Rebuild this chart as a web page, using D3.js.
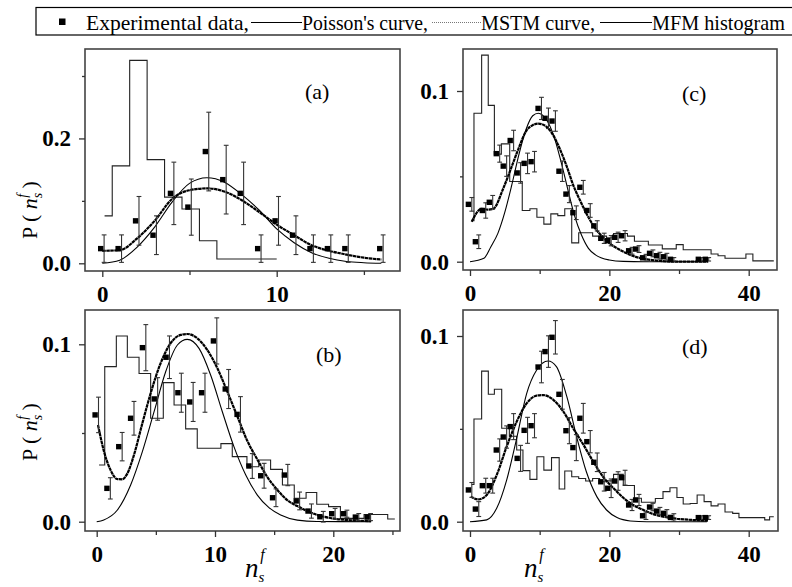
<!DOCTYPE html>
<html>
<head>
<meta charset="utf-8">
<script src="https://cdn.jsdelivr.net/npm/d3@7"></script>
<style>
  body { margin: 0; background: #fff; }
  svg { display: block; }
  .tick text { font-family: 'Liberation Serif', 'Times New Roman', serif; font-weight: bold; font-size: 23px; fill: #000; }
  .tick line { stroke: #333; stroke-width: 1.3; }
</style>
</head>
<body>
<svg id="canvas" width="792" height="587"></svg>
<script>
// ---- panel (a)
const aExpN = [0, 1, 2, 3, 4, 5, 6, 7, 8, 9, 10, 11, 12, 13, 14, 16];
const aExpP = [0.0235, 0.0235, 0.068, 0.045, 0.112, 0.09, 0.179, 0.134, 0.112, 0.0235, 0.068, 0.045, 0.0235, 0.0235, 0.0235, 0.0235];
const aExpErr = [0.022, 0.022, 0.039, 0.031, 0.05, 0.045, 0.063, 0.055, 0.05, 0.022, 0.039, 0.031, 0.022, 0.022, 0.022, 0.022];
const aPoisN = [0, 1, 2, 3, 4, 5, 6, 7, 8, 9, 10, 11, 12, 13, 14, 15, 16];
const aPoisP = [0.0, 0.005, 0.026, 0.058, 0.098, 0.128, 0.137, 0.13, 0.11, 0.085, 0.055, 0.033, 0.017, 0.008, 0.003, 0.001, 0.0];
const aMstmN = [0, 1, 2, 3, 4, 5, 6, 7, 8, 9, 10, 11, 12, 13, 14, 15, 16];
const aMstmP = [0.02, 0.021, 0.04, 0.068, 0.103, 0.117, 0.12, 0.115, 0.101, 0.082, 0.062, 0.045, 0.029, 0.02, 0.014, 0.009, 0.006];
const aHistX = [0.13, 0.57, 1.57, 2.57, 3.57, 4.57, 5.57, 6.57, 10.0];
const aHistP = [0.076, 0.156, 0.325, 0.166, 0.106, 0.087, 0.036, 0.007];

// ---- panel (b)
const bExpN = [0, 1, 2, 3, 4, 5, 6, 7, 8, 9, 10, 11, 12, 13, 14, 15, 16, 17, 18, 19, 20, 21, 22, 23];
const bExpP = [0.0602, 0.0188, 0.0423, 0.0583, 0.0981, 0.0692, 0.0927, 0.0727, 0.0675, 0.0727, 0.1019, 0.0748, 0.0605, 0.0314, 0.0259, 0.0135, 0.0263, 0.0117, 0.006, 0.0028, 0.0045, 0.0045, 0.0026, 0.0026];
const bExpErr = [0.01, 0.006, 0.008, 0.0095, 0.013, 0.012, 0.012, 0.011, 0.011, 0.011, 0.013, 0.011, 0.01, 0.007, 0.007, 0.005, 0.006, 0.005, 0.004, 0.003, 0.003, 0.002, 0.002, 0.002];
const bPoisN = [0, 0.6, 1.75, 2.87, 3.86, 4.85, 5.83, 6.82, 7.66, 8.65, 9.63, 10.62, 11.6, 12.6, 13.58, 14.56, 15.55, 16.96, 18.6, 23.2];
const bPoisP = [0, 0.001, 0.0066, 0.0207, 0.0395, 0.062, 0.0845, 0.0996, 0.1028, 0.0977, 0.0827, 0.062, 0.0423, 0.0263, 0.015, 0.0079, 0.0038, 0.0009, 0.0001, 0];
const bMstmN = [0.11, 0.62, 1.18, 1.75, 2.17, 2.6, 3.15, 3.86, 4.56, 5.4, 6.25, 7.1, 7.66, 8.5, 9.35, 10.2, 11.04, 11.9, 12.7, 13.6, 14.4, 15.27, 16.1, 16.96, 18.1, 19.2, 20.3, 21.5, 23.2];
const bMstmP = [0.0545, 0.0395, 0.029, 0.024, 0.0239, 0.0273, 0.0376, 0.0555, 0.0724, 0.0893, 0.1006, 0.1053, 0.1058, 0.1034, 0.0968, 0.0865, 0.0733, 0.0592, 0.046, 0.0348, 0.0254, 0.0179, 0.0122, 0.0088, 0.0051, 0.0028, 0.0015, 0.0008, 0.0003];
const bHistX = [0.2, 0.68, 1.66, 2.59, 3.58, 4.56, 5.63, 6.54, 7.52, 8.5, 10.5, 11.46, 12.7, 13.7, 14.7, 15.7, 16.7, 17.7, 18.6, 19.6, 20.6, 22.6, 24.6, 25.2];
const bHistP = [0.032, 0.0874, 0.1047, 0.0927, 0.0835, 0.0583, 0.0784, 0.0658, 0.0523, 0.0414, 0.044, 0.0367, 0.031, 0.0348, 0.0295, 0.0207, 0.0132, 0.0165, 0.0098, 0.0085, 0.0019, 0.0041, 0.0015];

// ---- panel (c)
const cExpN = [0, 1, 2, 3, 4, 5, 6, 7, 8, 9, 10, 11, 12, 13, 14, 15, 16, 17, 18, 19, 20, 21, 22, 23, 24, 25, 26, 27, 28, 29, 33, 34];
const cExpP = [0.0336, 0.0117, 0.03, 0.0348, 0.0633, 0.056, 0.071, 0.052, 0.0576, 0.0586, 0.0898, 0.084, 0.0824, 0.053, 0.0396, 0.0287, 0.0436, 0.03, 0.021, 0.0137, 0.0123, 0.0143, 0.0152, 0.0064, 0.0074, 0.0023, 0.0049, 0.0035, 0.0029, 0.0014, 0.0014, 0.0014];
const cExpErr = [0.004, 0.004, 0.0045, 0.004, 0.005, 0.006, 0.006, 0.006, 0.006, 0.006, 0.0065, 0.006, 0.006, 0.006, 0.005, 0.004, 0.004, 0.004, 0.003, 0.003, 0.003, 0.003, 0.003, 0.002, 0.002, 0.002, 0.002, 0.002, 0.002, 0.001, 0.001, 0.001];
const cPoisN = [0, 2, 3, 4, 5, 6, 7, 8, 9, 9.8, 11, 12, 13, 14, 15, 16, 17, 18, 20, 22, 25, 34];
const cPoisP = [0, 0.002, 0.0088, 0.0166, 0.029, 0.045, 0.0625, 0.077, 0.0855, 0.087, 0.083, 0.074, 0.0596, 0.043, 0.027, 0.0156, 0.0078, 0.004, 0.001, 0.0002, 0, 0];
const cMstmN = [0.24, 1.67, 2.5, 3.35, 4.78, 5.74, 6.94, 8.13, 9.0, 9.8, 11.0, 11.96, 12.9, 13.9, 14.8, 15.9, 17.0, 17.9, 19.0, 20.1, 21.3, 22.5, 23.9, 25.4, 27.3, 29.7, 34.2];
const cMstmP = [0.0234, 0.031, 0.0305, 0.031, 0.043, 0.053, 0.066, 0.077, 0.08, 0.0809, 0.079, 0.074, 0.066, 0.0557, 0.045, 0.035, 0.026, 0.02, 0.0146, 0.0105, 0.0074, 0.0049, 0.0027, 0.0014, 0.0004, 0.0, 0.0];
const cHistX = [0.24, 0.57, 1.67, 2.62, 3.5, 4.5, 5.7, 7.5, 8.6, 9.6, 10.6, 11.6, 12.6, 13.6, 14.6, 15.6, 17.6, 19.6, 20.6, 22.6, 23.6, 25.6, 27.6, 29.6, 30.6, 34.6, 35.6, 36.6, 39.6, 40.6, 43.6];
const cHistP = [0.024, 0.087, 0.121, 0.0916, 0.063, 0.069, 0.047, 0.03, 0.031, 0.026, 0.022, 0.028, 0.027, 0.031, 0.011, 0.017, 0.015, 0.014, 0.0165, 0.015, 0.012, 0.0098, 0.0075, 0.01, 0.007, 0.0045, 0.0035, 0.002, 0.0045, 0.0005];

// ---- panel (d)
const dExpN = [0, 1, 2, 3, 4, 5, 6, 7, 8, 9, 10, 11, 12, 13, 14, 15, 16, 17, 18, 19, 20, 21, 22, 23, 24, 25, 26, 27, 28, 29, 33, 34];
const dExpP = [0.0171, 0.0068, 0.0194, 0.0194, 0.0386, 0.0456, 0.0512, 0.0341, 0.0492, 0.0517, 0.0833, 0.0916, 0.0993, 0.0686, 0.049, 0.0399, 0.0557, 0.0431, 0.032, 0.0215, 0.018, 0.0219, 0.0237, 0.009, 0.0117, 0.0032, 0.0079, 0.0057, 0.0045, 0.0023, 0.0022, 0.0022];
const dExpErr = [0.004, 0.004, 0.004, 0.004, 0.006, 0.006, 0.007, 0.007, 0.007, 0.0065, 0.0085, 0.0085, 0.009, 0.008, 0.007, 0.007, 0.008, 0.006, 0.005, 0.005, 0.005, 0.005, 0.004, 0.003, 0.003, 0.002, 0.002, 0.002, 0.002, 0.002, 0.001, 0.001];
const dPoisN = [0, 2.4, 3.83, 5.26, 6.7, 8.13, 9.57, 11.2, 12.4, 13.9, 15.3, 16.7, 18.2, 19.6, 21.1, 23, 25.4, 34];
const dPoisP = [0, 0.001, 0.0072, 0.0224, 0.0449, 0.069, 0.0817, 0.0865, 0.0835, 0.0673, 0.0458, 0.0269, 0.0135, 0.0063, 0.0022, 0.0004, 0, 0];
const dMstmN = [0.1, 1.2, 2.4, 3.83, 5.26, 6.7, 8.13, 9.57, 10.5, 12, 13.4, 14.8, 16.3, 17.7, 19.1, 20.6, 22, 23.4, 24.9, 26.3, 27.75, 29.7, 32, 34.2];
const dMstmP = [0.0135, 0.012, 0.0144, 0.0251, 0.0404, 0.0539, 0.0637, 0.0679, 0.0682, 0.0655, 0.0593, 0.0503, 0.0413, 0.0323, 0.0242, 0.018, 0.0129, 0.009, 0.0063, 0.0041, 0.0027, 0.0016, 0.0009, 0.0005];
const dHistX = [0.24, 0.57, 1.67, 2.63, 3.5, 4.55, 5.65, 6.7, 7.6, 8.6, 9.6, 10.6, 11.7, 12.8, 13.6, 14.6, 15.6, 16.6, 17.6, 18.6, 19.6, 20.6, 22.0, 23.6, 24.6, 26.6, 27.7, 28.7, 29.7, 30.6, 31.6, 32.6, 33.6, 34.6, 35.6, 36.6, 37.7, 38.6, 42.3, 43.0, 43.6];
const dHistP = [0.02, 0.0553, 0.0811, 0.0686, 0.0713, 0.0503, 0.046, 0.0386, 0.0275, 0.0228, 0.035, 0.0278, 0.0345, 0.0176, 0.0273, 0.0242, 0.0233, 0.0219, 0.0233, 0.0215, 0.022, 0.0255, 0.0195, 0.0126, 0.0105, 0.0125, 0.0162, 0.0183, 0.013, 0.0095, 0.0098, 0.0144, 0.0108, 0.0085, 0.0095, 0.0052, 0.0045, 0.0022, 0.001, 0.0027];

// tick values
const aXMajor = [0, 10], aXMinor = [5, 15];
const bXMajor = [0, 10, 20], bXMinor = [5, 15, 25];
const cdXMajor = [0, 20, 40], cdXMinor = [10, 30];
const aYMajor = [0, 0.2], aYMinor = [0.1, 0.3];
const bcdYMajor = [0, 0.1], bcdYMinor = [0.05];

const legendLabels = ['Experimental data,', "Poisson's curve,", 'MSTM curve,', 'MFM histogram'];

const svg = d3.select('#canvas');
const serif = "'Liberation Serif', 'Times New Roman', serif";

const zip = (xs, ys) => xs.map((x, i) => [x, ys[i]]);

const panels = [
  { id: 'a', label: '(a)', box: [85, 49, 400, 271], xd: [0, 10], xr: [102.3, 276.7], yd: [0, 0.3], yr: [263.3, 76],
    xMajor: aXMajor, xMinor: aXMinor, yMajor: aYMajor, yMinor: aYMinor, labelPos: [305, 99],
    expN: aExpN, expP: aExpP, expErr: aExpErr, poisN: aPoisN, poisP: aPoisP, mstmN: aMstmN, mstmP: aMstmP, histX: aHistX, histP: aHistP },
  { id: 'b', label: '(b)', box: [85, 310, 400, 531], xd: [0, 20], xr: [96.7, 333.3], yd: [0, 0.1], yr: [521.7, 344.3],
    xMajor: bXMajor, xMinor: bXMinor, yMajor: bcdYMajor, yMinor: bcdYMinor, labelPos: [316, 362],
    expN: bExpN, expP: bExpP, expErr: bExpErr, poisN: bPoisN, poisP: bPoisP, mstmN: bMstmN, mstmP: bMstmP, histX: bHistX, histP: bHistP },
  { id: 'c', label: '(c)', box: [463, 49, 777, 270], xd: [0, 40], xr: [470, 748.7], yd: [0, 0.1], yr: [261.7, 91],
    xMajor: cdXMajor, xMinor: cdXMinor, yMajor: bcdYMajor, yMinor: bcdYMinor, labelPos: [682, 101],
    expN: cExpN, expP: cExpP, expErr: cExpErr, poisN: cPoisN, poisP: cPoisP, mstmN: cMstmN, mstmP: cMstmP, histX: cHistX, histP: cHistP },
  { id: 'd', label: '(d)', box: [463, 310, 778, 531], xd: [0, 40], xr: [470, 748.7], yd: [0, 0.1], yr: [521.7, 336],
    xMajor: cdXMajor, xMinor: cdXMinor, yMajor: bcdYMajor, yMinor: bcdYMinor, labelPos: [682, 354],
    expN: dExpN, expP: dExpP, expErr: dExpErr, poisN: dPoisN, poisP: dPoisP, mstmN: dMstmN, mstmP: dMstmP, histX: dHistX, histP: dHistP }
];

const drawPanel = (p) => {
  const [bx0, by0, bx1, by1] = p.box;
  const x = d3.scaleLinear().domain(p.xd).range(p.xr);
  const y = d3.scaleLinear().domain(p.yd).range(p.yr);
  const g = svg.append('g');

  g.append('clipPath').attr('id', 'clip-' + p.id)
    .append('rect').attr('x', bx0).attr('y', by0).attr('width', bx1 - bx0).attr('height', by1 - by0);
  const plot = g.append('g').attr('clip-path', 'url(#clip-' + p.id + ')');

  // MFM histogram
  const steps = zip(p.histX, p.histP.concat([p.histP[p.histP.length - 1]]));
  plot.append('path')
    .attr('d', d3.line().x((d) => x(d[0])).y((d) => y(d[1])).curve(d3.curveStepAfter)(steps))
    .attr('fill', 'none').attr('stroke', '#222').attr('stroke-width', 1.1);

  // Poisson curve
  plot.append('path')
    .attr('d', d3.line().x((d) => x(d[0])).y((d) => y(d[1])).curve(d3.curveMonotoneX)(zip(p.poisN, p.poisP)))
    .attr('fill', 'none').attr('stroke', '#000').attr('stroke-width', 1.1);

  // MSTM curve
  plot.append('path')
    .attr('d', d3.line().x((d) => x(d[0])).y((d) => y(d[1])).curve(d3.curveMonotoneX)(zip(p.mstmN, p.mstmP)))
    .attr('fill', 'none').attr('stroke', '#000').attr('stroke-width', 2.2).attr('stroke-dasharray', '3.5,0.5');

  // experimental points with error bars
  const pts = p.expN.map((n, i) => ({ n: n, v: p.expP[i], e: p.expErr[i] }));
  const bars = plot.selectAll('g.err').data(pts).enter().append('g').attr('class', 'err')
    .attr('stroke', '#333').attr('stroke-width', 1.1);
  bars.append('line')
    .attr('x1', (d) => x(d.n) + 1.8).attr('x2', (d) => x(d.n) + 1.8)
    .attr('y1', (d) => y(d.v - d.e)).attr('y2', (d) => y(d.v + d.e));
  bars.append('line')
    .attr('x1', (d) => x(d.n) - 0.6).attr('x2', (d) => x(d.n) + 4.2)
    .attr('y1', (d) => y(d.v + d.e)).attr('y2', (d) => y(d.v + d.e));
  bars.append('line')
    .attr('x1', (d) => x(d.n) - 0.6).attr('x2', (d) => x(d.n) + 4.2)
    .attr('y1', (d) => y(d.v - d.e)).attr('y2', (d) => y(d.v - d.e));
  plot.selectAll('rect.pt').data(pts).enter().append('rect').attr('class', 'pt')
    .attr('x', (d) => x(d.n) - 4.3).attr('y', (d) => y(d.v) - 2.7)
    .attr('width', 5.4).attr('height', 5.4).attr('fill', '#000');

  // frame
  g.append('rect').attr('x', bx0).attr('y', by0).attr('width', bx1 - bx0).attr('height', by1 - by0)
    .attr('fill', 'none').attr('stroke', '#444').attr('stroke-width', 1.6);

  // axes
  const xAxisG = g.append('g').attr('transform', 'translate(0,' + by1 + ')');
  xAxisG.call(d3.axisBottom(x).tickValues(p.xMinor).tickSize(4).tickFormat(''));
  xAxisG.append('g').call(d3.axisBottom(x).tickValues(p.xMajor).tickSize(6).tickPadding(9).tickFormat(d3.format('d')));
  const yAxisG = g.append('g').attr('transform', 'translate(' + bx0 + ',0)');
  yAxisG.call(d3.axisLeft(y).tickValues(p.yMinor).tickSize(3).tickFormat(''));
  yAxisG.append('g').call(d3.axisLeft(y).tickValues(p.yMajor).tickSize(6).tickPadding(8).tickFormat(d3.format('.1f')));
  g.selectAll('.domain').remove();
  g.selectAll('.tick text').attr('font-family', null).attr('font-size', null);

  g.append('text').attr('x', p.labelPos[0]).attr('y', p.labelPos[1])
    .attr('font-family', serif).attr('font-size', 22).text(p.label);
};

panels.forEach(drawPanel);

// y axis titles: P ( n_s^f )
const yTitle = (cy) => {
  const t = svg.append('text').attr('transform', 'translate(37,' + cy + ') rotate(-90)')
    .attr('text-anchor', 'middle').attr('font-family', serif).attr('font-size', 22);
  t.append('tspan').text('P ( ');
  t.append('tspan').attr('font-style', 'italic').text('n');
  t.append('tspan').attr('font-style', 'italic').attr('font-size', 14).attr('dy', 5).text('s');
  t.append('tspan').attr('font-style', 'italic').attr('font-size', 14).attr('dx', -5).attr('dy', -15).text('f');
  t.append('tspan').attr('dy', 10).text(' )');
};
yTitle(210);
yTitle(432);

// x axis titles: n_s^f
const xTitle = (x0) => {
  const t = svg.append('text').attr('x', x0).attr('y', 577)
    .attr('font-family', serif).attr('font-size', 27).attr('font-style', 'italic');
  t.append('tspan').text('n');
  t.append('tspan').attr('font-size', 15).attr('dy', 5).text('s');
  t.append('tspan').attr('font-size', 16).attr('dx', -4).attr('dy', -22).text('f');
};
xTitle(245);
xTitle(524);

// legend
const lg = svg.append('g');
lg.append('rect').attr('x', 36).attr('y', 7.5).attr('width', 800).attr('height', 27.5)
  .attr('fill', 'none').attr('stroke', '#000').attr('stroke-width', 1.2);
lg.append('rect').attr('x', 59).attr('y', 18.5).attr('width', 6.5).attr('height', 6.5).attr('fill', '#000');
const legendText = [[86, 163], [302, 126], [481, 114], [652, 133]];
const legendLines = [[251, 302, 'solid'], [432, 481, 'dot'], [600, 652, 'solid']];
legendLabels.forEach((s, i) => {
  lg.append('text').attr('x', legendText[i][0]).attr('y', 30)
    .attr('textLength', legendText[i][1]).attr('lengthAdjust', 'spacingAndGlyphs')
    .attr('font-family', serif).attr('font-size', 21).text(s);
});
legendLines.forEach((l) => {
  lg.append('line').attr('x1', l[0]).attr('x2', l[1]).attr('y1', 22.5).attr('y2', 22.5)
    .attr('stroke', l[2] === 'dot' ? '#777' : '#000').attr('stroke-width', 1)
    .attr('stroke-dasharray', l[2] === 'dot' ? '1,1' : null);
});
</script>
</body>
</html>
